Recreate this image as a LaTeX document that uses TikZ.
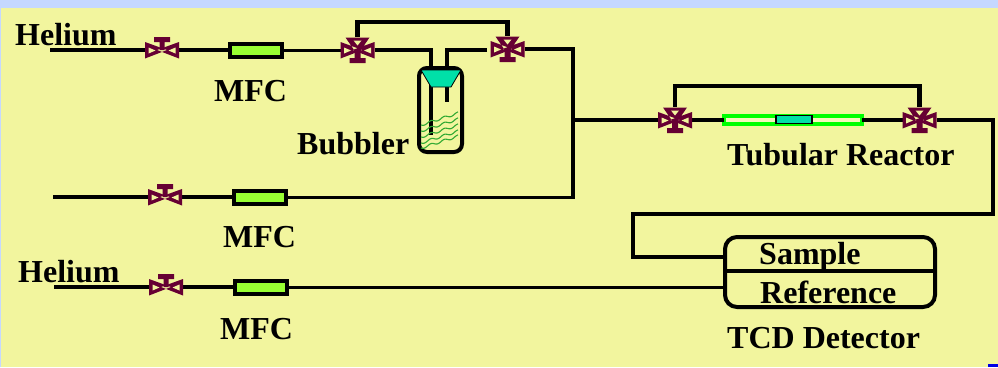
\documentclass[tikz,border=0pt]{standalone}
\usepackage{fontspec}
\setmainfont{Liberation Serif}
\definecolor{bgy}{HTML}{F2F59E}
\definecolor{topb}{HTML}{C5D8FF}
\definecolor{valvec}{HTML}{660033}
\definecolor{mfcg}{HTML}{99FF33}
\definecolor{teal}{HTML}{00E0A8}
\definecolor{wave}{HTML}{33AA33}
\tikzset{
  lab/.style={font=\bfseries\fontsize{32}{32}\selectfont,text=black,inner sep=0pt,anchor=base west},
  pipe/.style={draw=black,line width=4.6pt,miter limit=10},
  thinpipe/.style={draw=black,line width=3pt},
  mfcbox/.style={draw=black,fill=mfcg,line width=4pt,minimum width=52pt,minimum height=13pt,inner sep=0pt,outer sep=0pt},
  valvept/.style={minimum width=34pt,minimum height=26pt,inner sep=0pt,outer sep=0pt},
  pics/valvetwo/.style={code={
    \fill[valvec] (-17,-8)--(-17,8.5)--(5,0)--cycle (17,-8)--(17,8.5)--(-5,0)--cycle;
    \fill[bgy] (-13.5,-2.5)--(-13.5,3.5)--(-6.5,.5)--cycle (13.5,-2.5)--(13.5,3.5)--(6.5,.5)--cycle;
    \fill[valvec] (-2.5,-10)rectangle(2.5,0) (-8,-13)rectangle(8,-8);
  }},
  pics/valvethree/.style={code={
    \fill[valvec] (-17,-8)--(-17,8.5)--(5,0)--cycle (17,-8)--(17,8.5)--(-5,0)--cycle (-12,-12.5)--(12,-12.5)--(0,5)--cycle;
    \fill[bgy] (-13.5,-2.5)--(-13.5,3.5)--(-6.5,.5)--cycle (13.5,-2.5)--(13.5,3.5)--(6.5,.5)--cycle (-4,-9.5)--(4,-9.5)--(0,-4.5)--cycle;
    \fill[valvec] (-3,0)rectangle(3,8) (-8,8)rectangle(8,13);
  }}
}
\begin{document}
\begin{tikzpicture}[x=1pt,y=-1pt]
\useasboundingbox (0,0) rectangle (998,367);
\fill[bgy] (0,0) rectangle (998,367);
\fill[topb] (0,0) rectangle (998,8);
\fill[topb] (0,0) rectangle (1,367);
\fill[blue!90!black] (988,364) rectangle (998,367);

% named positions
\node[valvept] (v1) at (162,50) {};
\node[valvept] (v2) at (165,197) {};
\node[valvept] (v3) at (166,287) {};
\node[valvept] (w1) at (357.5,50) {};
\node[valvept] (w2) at (507.5,49) {};
\node[valvept] (w3) at (675,120) {};
\node[valvept] (w4) at (919.5,120) {};
\coordinate (s1) at (50,50);
\coordinate (s2) at (53,197);
\coordinate (s3) at (54,287);
\coordinate (jA) at (573,120);
\coordinate (gapS) at (487,50);
\coordinate (tubeA) at (431,135);
\coordinate (tubeB) at (447,102);
\coordinate (detbend) at (633,214);

% devices
\node[mfcbox] (m1) at (256,50) {};
\node[mfcbox] (m2) at (259.5,197) {};
\node[mfcbox] (m3) at (261,287) {};
\node[draw=black,line width=4pt,rounded corners=8pt,minimum width=43pt,minimum height=84pt,inner sep=0pt,outer sep=0pt] (bub) at (440.5,110) {};
\node[draw=black,line width=4pt,rounded corners=12pt,minimum width=210pt,minimum height=70pt,inner sep=0pt,outer sep=0pt] (det) at (830,272) {};
\node[draw=green,fill=bgy!70!white,line width=4pt,minimum width=138pt,minimum height=8pt,inner sep=0pt,outer sep=0pt] (reac) at (793,120) {};
\node[draw=black,fill=teal,line width=1.5pt,minimum width=36pt,minimum height=8pt,inner sep=0pt,outer sep=0pt] (cat) at (794,119.5) {};

% connectors
\draw[pipe] (s1) -- (v1.west);
\draw[pipe] (v1.east) -- (m1.west);
\draw[thinpipe] (m1.east) -- (w1.west);
\draw[pipe] (w1.north) |- (357.5,22) -| (w2.north);
\draw[pipe] (w1.east) -| (tubeA);
\draw[pipe] (gapS) -| (tubeB);
\draw[pipe] (w2.east) -| (jA) -- (w3.west);
\draw[pipe] (jA) -- (573,199);
\draw[pipe] (s2) -- (v2.west);
\draw[pipe] (v2.east) -- (m2.west);
\draw[thinpipe] (m2.east) -- (575,197);
\draw[pipe] (s3) -- (v3.west);
\draw[pipe] (v3.east) -- (m3.west);
\draw[thinpipe] (m3.east) -- (det.west |- m3.east);
\draw[pipe] (w3.north) |- (675,86) -| (w4.north);
\draw[pipe] (w3.east) -- (reac.west);
\draw[pipe] (reac.east) -- (w4.west);
\draw[pipe] (w4.east) -| (993,214) -- (detbend) |- (det.west |- 0,257);
\draw[draw=black,line width=4pt] (det.west |- 0,271) -- (det.east |- 0,271);

% stopper and liquid
\draw[fill=teal,draw=black,line width=.8pt] (421,70) -- (461,70) -- (451,87) -- (431,87) -- cycle;
\foreach \ya in {125,131,137,143,148}
  \draw[wave,line width=1.1pt,smooth] plot[domain=0:37,samples=40] ({421+\x},{\ya-0.32*\x+1.2*sin(\x*27)});

% valves
\pic at (v1) {valvetwo};
\pic at (v2) {valvetwo};
\pic at (v3) {valvetwo};
\pic at (w1) {valvethree};
\pic at (w2) {valvethree};
\pic at (w3) {valvethree};
\pic at (w4) {valvethree};

% labels
\node[lab] (t1) at (15,45) {Helium};
\node[lab] (t2) at (18,282) {Helium};
\node[lab] (t3) at (214,101) {MFC};
\node[lab] (t4) at (223,247) {MFC};
\node[lab] (t5) at (220,339) {MFC};
\node[lab] (t6) at (297,154) {Bubbler};
\node[lab] (t7) at (727,165) {Tubular Reactor};
\node[lab] (t8) at (759,264) {Sample};
\node[lab] (t9) at (760,303) {Reference};
\node[lab] (t10) at (727,348) {TCD Detector};
\end{tikzpicture}
\end{document}
